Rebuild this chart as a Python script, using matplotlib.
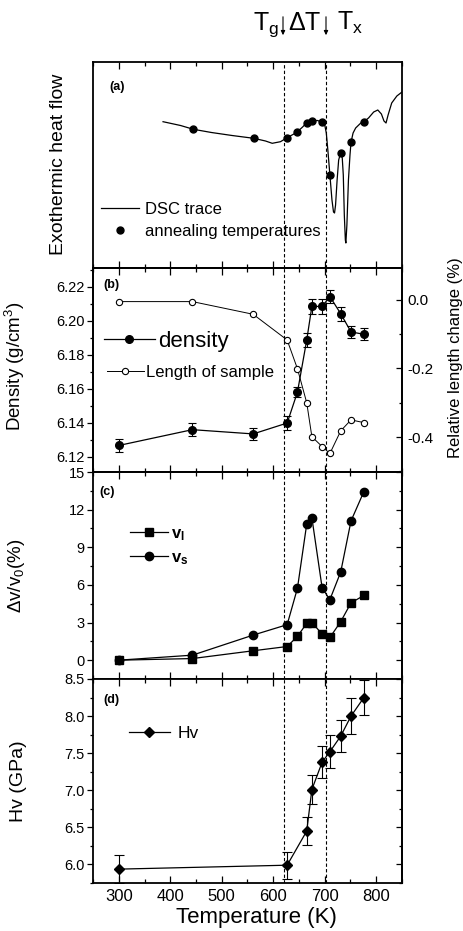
import matplotlib

matplotlib.use("Agg")
import matplotlib.pyplot as plt
import numpy as np
from matplotlib.lines import Line2D
from matplotlib.patches import FancyArrowPatch
from matplotlib.ticker import FormatStrFormatter, MultipleLocator

plt.rcParams["font.family"] = ["Liberation Sans", "DejaVu Sans"]
plt.rcParams["mathtext.fontset"] = "custom"
plt.rcParams["mathtext.rm"] = "Liberation Sans"
plt.rcParams["mathtext.it"] = "Liberation Sans:italic"
plt.rcParams["mathtext.bf"] = "Liberation Sans:bold"
plt.rcParams["mathtext.default"] = "regular"
plt.rcParams["axes.unicode_minus"] = False

# ---- data ----
# (a) DSC trace, arbitrary units
DSC_T = [386, 420, 445, 480, 520, 562, 585, 598, 614, 627, 640, 647, 657, 665, 675, 686, 695,
         700, 703, 706, 710, 714, 717, 719, 721, 724, 727, 731, 734, 736, 738, 740, 741, 743,
         746, 749, 751, 755, 760, 770, 776, 785, 795, 803, 810, 815, 819, 823, 830, 840, 850]
DSC_SIG = [146.3, 142.5, 138.7, 135.5, 132.5, 129.7, 127, 124.7, 126.3, 130.3, 134, 136.3, 141,
           145.3, 147.3, 147.5, 145.7, 143, 135, 118, 93, 68, 56, 55, 63, 88, 108, 115.3, 110,
           93, 53, 28, 25, 43, 88, 113, 125.7, 135, 140, 145, 146.3, 150, 156, 158, 154, 147,
           145, 153, 165, 172, 176]
ANNEAL_T = [445, 562, 627, 647, 665, 675, 695, 710, 731, 751, 776]
ANNEAL_SIG = [138.7, 129.7, 130.3, 136.3, 145.3, 147.3, 145.7, 93, 115.3, 125.7, 146.3]

# (b) density and length change
T_ALL = [300, 443, 561, 627, 647, 665, 675, 695, 710, 731, 751, 776]
DENSITY = [6.1266, 6.1359, 6.1334, 6.1398, 6.158, 6.1886, 6.2084, 6.2084, 6.2142, 6.2041, 6.1934, 6.192]
DENSITY_ERR = [0.004, 0.004, 0.0035, 0.004, 0.003, 0.004, 0.0045, 0.0045, 0.004, 0.004, 0.0035, 0.0035]
LENGTH = [-0.005, -0.005, -0.042, -0.117, -0.201, -0.30, -0.399, -0.428, -0.448, -0.382, -0.350, -0.358]

# (c) sound velocity changes
V_L = [0, 0.13, 0.75, 1.09, 1.9, 2.94, 3.0, 2.08, 1.81, 3.07, 4.57, 5.16]
V_S = [0, 0.4, 2.0, 2.83, 5.74, 10.85, 11.36, 5.74, 4.83, 7.03, 11.1, 13.44]

# (d) hardness
HV_T = [300, 627, 665, 675, 695, 710, 731, 751, 776]
HV = [5.937, 5.99, 6.45, 7.01, 7.38, 7.52, 7.73, 8.0, 8.25]
HV_ERR = [0.19, 0.18, 0.19, 0.2, 0.22, 0.22, 0.22, 0.24, 0.24]

T_G, T_X = 620, 703

W, H = 464, 931
fig = plt.figure(figsize=(W / 100, H / 100), dpi=100, facecolor="white")


def px_axes(left, top, right, bottom):
    return fig.add_axes([left / W, 1 - bottom / H, (right - left) / W, (bottom - top) / H])


ax_a = px_axes(93, 62, 402, 268)
ax_b = px_axes(93, 268, 402, 472)
ax_c = px_axes(93, 472, 402, 679)
ax_d = px_axes(93, 679, 402, 883)


def style(ax, bottom_labels=False):
    ax.set_xlim(250, 850)
    ax.xaxis.set_major_locator(MultipleLocator(100))
    ax.xaxis.set_minor_locator(MultipleLocator(50))
    ax.tick_params(axis="x", which="both", direction="in", top=True, bottom=True,
                   labelbottom=bottom_labels, width=0.9, labelsize=12, pad=4)
    ax.tick_params(axis="x", which="major", length=5)
    ax.tick_params(axis="x", which="minor", length=3)
    ax.tick_params(axis="y", which="both", direction="out", width=0.9, labelsize=10.5, pad=2)
    ax.tick_params(axis="y", which="major", length=4)
    ax.tick_params(axis="y", which="minor", length=2.5)
    for sp in ax.spines.values():
        sp.set_linewidth(1.3)
    for xv in (T_G, T_X):
        ax.axvline(xv, color="black", lw=0.8, ls=(0, (3, 2)), zorder=1)


def right_ticks(ax, major, minor):
    sec = ax.secondary_yaxis("right")
    sec.yaxis.set_major_locator(MultipleLocator(major))
    sec.yaxis.set_minor_locator(MultipleLocator(minor))
    sec.tick_params(which="both", direction="in", labelright=False, width=0.9)
    sec.tick_params(which="major", length=4)
    sec.tick_params(which="minor", length=2.5)
    sec.spines["right"].set_linewidth(1.3)


for a in (ax_a, ax_b, ax_c, ax_d):
    style(a, bottom_labels=(a is ax_d))

# ---- (a) DSC ----
ax_a.plot(DSC_T, DSC_SIG, color="black", lw=0.9, label="DSC trace")
ax_a.plot(ANNEAL_T, ANNEAL_SIG, "o", color="black", ms=5, label="annealing temperatures")
ax_a.set_ylim(0, 206)
ax_a.set_yticks([])
ax_a.set_ylabel("Exothermic heat flow", fontsize=14)
ax_a.yaxis.set_label_coords(-0.084, 0.505)
ax_a.text(0.078, 0.879, "(a)", transform=ax_a.transAxes, ha="center", va="center",
          fontsize=9, fontweight="bold")
ax_a.legend(loc="center left", bbox_to_anchor=(0.025, 0.23), frameon=False, fontsize=12,
            handlelength=2.3, handletextpad=0.35, labelspacing=0.4, borderpad=0,
            borderaxespad=0, numpoints=1)

# ---- (b) density + length ----
ax_b.errorbar(T_ALL, DENSITY, yerr=DENSITY_ERR, fmt="-o", color="black", lw=0.9, ms=5.5,
              capsize=3, elinewidth=0.8, capthick=0.8, zorder=3)
ax_b.set_ylim(6.111, 6.231)
ax_b.yaxis.set_major_locator(MultipleLocator(0.02))
ax_b.yaxis.set_minor_locator(MultipleLocator(0.01))
ax_b.yaxis.set_major_formatter(FormatStrFormatter("%.2f"))
ax_b.tick_params(axis="y", right=False)
ax_b.set_ylabel("Density (g/cm$^3$)", fontsize=13.5)
ax_b.yaxis.set_label_coords(-0.215, 0.52)
ax_b.text(0.061, 0.917, "(b)", transform=ax_b.transAxes, ha="center", va="center",
          fontsize=9, fontweight="bold")

ax_b2 = ax_b.twinx()
ax_b2.plot(T_ALL, LENGTH, "-o", color="black", lw=0.7, ms=4.5, mfc="white", mew=0.8,
           label="Length of sample", zorder=2)
ax_b2.set_ylim(-0.502, 0.093)
ax_b2.yaxis.set_major_locator(MultipleLocator(0.2))
ax_b2.yaxis.set_minor_locator(MultipleLocator(0.1))
ax_b2.yaxis.set_major_formatter(FormatStrFormatter("%.1f"))
ax_b2.tick_params(axis="y", which="both", direction="in", labelsize=11, width=0.9, pad=4)
ax_b2.tick_params(axis="y", which="major", length=4)
ax_b2.tick_params(axis="y", which="minor", length=2.5)
ax_b2.set_ylabel("Relative length change (%)", fontsize=12)
ax_b2.yaxis.set_label_coords(1.148, 0.56)
for sp in ax_b2.spines.values():
    sp.set_linewidth(1.3)

dens_handle = Line2D([], [], color="black", lw=0.9, marker="o", ms=5.5)
leg1 = ax_b2.legend([dens_handle], ["density"], loc="center left", bbox_to_anchor=(0.035, 0.64),
                    frameon=False, fontsize=16, handlelength=2.3, handletextpad=0.15,
                    borderpad=0, borderaxespad=0, numpoints=1)
ax_b2.add_artist(leg1)
h2, l2 = ax_b2.get_legend_handles_labels()
ax_b2.legend(h2, l2, loc="center left", bbox_to_anchor=(0.045, 0.487), frameon=False,
             fontsize=12, handlelength=2.2, handletextpad=0.12, borderpad=0,
             borderaxespad=0, numpoints=1)

# ---- (c) velocities ----
ax_c.plot(T_ALL, V_L, "-s", color="black", lw=0.9, ms=5.5, label=r"$\mathbf{v_l}$")
ax_c.plot(T_ALL, V_S, "-o", color="black", lw=0.9, ms=6, label=r"$\mathbf{v_s}$")
ax_c.set_ylim(-1.5, 15)
ax_c.yaxis.set_major_locator(MultipleLocator(3))
ax_c.yaxis.set_minor_locator(MultipleLocator(1.5))
ax_c.tick_params(axis="y", right=False)
right_ticks(ax_c, 3, 1.5)
ax_c.set_ylabel(r"$\Delta$v/v$_0$(%)", fontsize=13.5)
ax_c.yaxis.set_label_coords(-0.215, 0.5)
ax_c.text(0.045, 0.903, "(c)", transform=ax_c.transAxes, ha="center", va="center",
          fontsize=9, fontweight="bold")
ax_c.legend(loc="center left", bbox_to_anchor=(0.12, 0.64), frameon=False, fontsize=12,
            handlelength=2.3, handletextpad=0.15, labelspacing=0.45, borderpad=0,
            borderaxespad=0, numpoints=1)

# ---- (d) hardness ----
ax_d.errorbar(HV_T, HV, yerr=HV_ERR, fmt="-D", color="black", lw=0.9, ms=5.5, capsize=3.5,
              elinewidth=0.8, capthick=0.8)
ax_d.set_ylim(5.75, 8.5)
ax_d.yaxis.set_major_locator(MultipleLocator(0.5))
ax_d.yaxis.set_minor_locator(MultipleLocator(0.25))
ax_d.yaxis.set_major_formatter(FormatStrFormatter("%.1f"))
ax_d.tick_params(axis="y", right=False)
right_ticks(ax_d, 0.5, 0.25)
ax_d.set_ylabel("Hv (GPa)", fontsize=14)
ax_d.yaxis.set_label_coords(-0.215, 0.5)
ax_d.set_xlabel("Temperature (K)", fontsize=16)
ax_d.xaxis.set_label_coords(0.53, -0.118)
ax_d.text(0.061, 0.897, "(d)", transform=ax_d.transAxes, ha="center", va="center",
          fontsize=9, fontweight="bold")
hv_handle = Line2D([], [], color="black", lw=0.9, marker="D", ms=5.5)
ax_d.legend([hv_handle], ["Hv"], loc="center left", bbox_to_anchor=(0.115, 0.735),
            frameon=False, fontsize=12.5, handlelength=2.4, handletextpad=0.4, borderpad=0,
            borderaxespad=0, numpoints=1)

# ---- header: Tg / dT / Tx ----
base_y = 1 - 30 / H
fig.text(253 / W, base_y, "T$_g$", fontsize=18, va="baseline", ha="left")
fig.text(288 / W, base_y, r"$\Delta$T", fontsize=18, va="baseline", ha="left")
fig.text(337 / W, base_y, "T$_x$", fontsize=18, va="baseline", ha="left")
for xp in (283, 326):
    arr = FancyArrowPatch((xp / W, 1 - 14 / H), (xp / W, 1 - 38 / H), transform=fig.transFigure,
                          arrowstyle="-|>,head_length=2.5,head_width=1.2", lw=0.8, color="black")
    fig.add_artist(arr)

fig.savefig("out.png", dpi=100, facecolor="white")
